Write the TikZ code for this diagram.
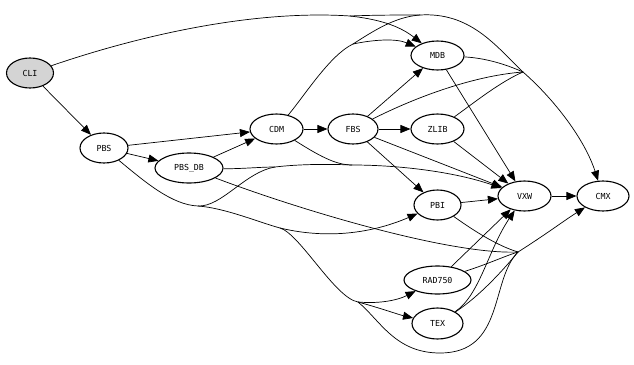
\documentclass[tikz,border=0pt]{standalone}
\usepackage{fontspec}
\newfontfamily\depfont{DejaVu Sans Mono}
\usetikzlibrary{arrows.meta,shapes.geometric}
\tikzset{
    depnode/.style={draw, ellipse, line width=1.1pt, inner sep=0pt,
        minimum height=30pt, font=\depfont\fontsize{8.3}{9}\selectfont},
    depline/.style={line width=0.7pt},
    deparrow/.style={depline, -{Triangle[length=10pt, width=8pt]}}
}
\begin{document}
\begin{tikzpicture}[x=1pt, y=-1pt]
\useasboundingbox (0,0) rectangle (634,364);
\node[depnode, fill=black!17, minimum width=47pt] (cli) at (30,73) {CLI};
\node[depnode, minimum width=48pt] (pbs) at (104,148) {PBS};
\node[depnode, minimum width=68pt] (pbsdb) at (189,168) {PBS\_DB};
\node[depnode, minimum width=53pt] (cdm) at (276.5,129) {CDM};
\node[depnode, minimum width=50pt] (fbs) at (353,129) {FBS};
\node[depnode, minimum width=53pt] (zlib) at (437.5,129) {ZLIB};
\node[depnode, minimum width=53pt, minimum height=29pt] (mdb) at (437.5,55.5) {MDB};
\node[depnode, minimum width=53pt] (vxw) at (524.5,196) {VXW};
\node[depnode, minimum width=52pt] (cmx) at (603,196) {CMX};
\node[depnode, minimum width=47pt] (pbi) at (437.5,205) {PBI};
\node[depnode, minimum width=67pt, minimum height=28pt] (rad) at (437.5,280) {RAD750};
\node[depnode, minimum width=51pt, minimum height=31pt] (tex) at (437.5,323.5) {TEX};
\coordinate (jcli) at (350,16);
\coordinate (jcdm) at (353,44);
\coordinate (jarc) at (420,15);
\coordinate (jtop) at (523,72);
\coordinate (jval) at (198,206);
\coordinate (jmid) at (275,167);
\coordinate (jcdmv) at (352,165);
\coordinate (jlow) at (280,228);
\coordinate (jsplit) at (358,302);
\coordinate (jdip) at (440,353);
\coordinate (jbot) at (518,252);
\draw[deparrow] (cli) -- (pbs);
\draw[depline] (cli) .. controls (150,32) and (260,10) .. (jcli);
\draw[deparrow] (jcli) .. controls (385,20) and (402,28) .. (mdb);
\draw[depline] (jcli) .. controls (375,15) and (400,15) .. (jarc);
\draw[depline] (cdm) .. controls (305,95) and (330,55) .. (jcdm);
\draw[deparrow] (jcdm) .. controls (372,40) and (395,38) .. (mdb);
\draw[depline] (jcdm) .. controls (375,30) and (395,17) .. (jarc);
\draw[depline] (jarc) .. controls (470,12) and (495,45) .. (jtop);
\draw[depline] (mdb) .. controls (485,58) and (505,64) .. (jtop);
\draw[depline] (fbs) .. controls (410,100) and (470,76) .. (jtop);
\draw[depline] (zlib) .. controls (475,102) and (500,82) .. (jtop);
\draw[deparrow] (jtop) .. controls (555,100) and (585,140) .. (cmx);
\draw[deparrow] (pbs) -- (pbsdb);
\draw[deparrow] (pbs) -- (cdm);
\draw[deparrow] (pbsdb) -- (cdm);
\draw[deparrow] (cdm) -- (fbs);
\draw[deparrow] (fbs) -- (zlib);
\draw[deparrow] (fbs) -- (mdb);
\draw[deparrow] (fbs) -- (pbi);
\draw[deparrow] (fbs) -- (vxw);
\draw[deparrow] (zlib) -- (vxw);
\draw[deparrow] (mdb) -- (vxw);
\draw[deparrow] (pbi) -- (vxw);
\draw[deparrow] (vxw) -- (cmx);
\draw[deparrow] (rad) -- (vxw);
\draw[deparrow] (tex) .. controls (480,295) and (488,250) .. (vxw);
\draw[depline] (pbs) .. controls (145,182) and (172,205) .. (jval);
\draw[depline] (jval) .. controls (222,207) and (245,172) .. (jmid);
\draw[depline] (pbsdb) .. controls (240,169) and (260,167) .. (jmid);
\draw[depline] (jmid) .. controls (300,164) and (330,164) .. (jcdmv);
\draw[depline] (cdm) .. controls (318,155) and (335,165) .. (jcdmv);
\draw[deparrow] (jcdmv) .. controls (400,165) and (455,172) .. (vxw);
\draw[depline] (jval) .. controls (225,208) and (258,222) .. (jlow);
\draw[deparrow] (jlow) .. controls (330,240) and (375,232) .. (pbi);
\draw[depline] (jlow) .. controls (300,234) and (335,298) .. (jsplit);
\draw[deparrow] (jsplit) .. controls (380,304) and (398,300) .. (rad);
\draw[deparrow] (jsplit) .. controls (380,308) and (400,315) .. (tex);
\draw[depline] (jsplit) .. controls (380,320) and (395,353) .. (jdip)
    .. controls (505,353) and (490,280) .. (jbot);
\draw[depline] (pbsdb) .. controls (300,210) and (450,255) .. (jbot);
\draw[depline] (pbi) .. controls (470,228) and (495,245) .. (jbot);
\draw[depline] (rad) .. controls (488,264) and (505,256) .. (jbot);
\draw[depline] (tex) .. controls (480,296) and (505,268) .. (jbot);
\draw[deparrow] (jbot) .. controls (545,235) and (565,220) .. (cmx);
\end{tikzpicture}
\end{document}
